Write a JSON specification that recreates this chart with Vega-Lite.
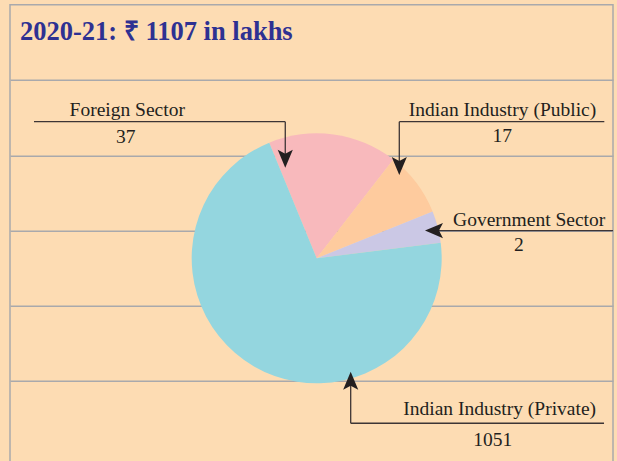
{
  "$schema": "https://vega.github.io/schema/vega-lite/v6.json",
  "width": 603,
  "height": 459.3,
  "autosize": {"type": "none"},
  "padding": {"left": 10, "top": 4.7, "right": 4, "bottom": 0},
  "background": "#FDDCB3",
  "config": {
    "view": {"stroke": "#A9A9AC", "strokeWidth": 1.5},
    "axisX": {"disable": true}
  },
  "data": {
    "values": [
      {"sector": "Foreign Sector", "value": 37, "slice_deg": 60.1, "k": 1},
      {"sector": "Indian Industry (Public)", "value": 17, "slice_deg": 30.2, "k": 2},
      {"sector": "Government Sector", "value": 2, "slice_deg": 14.85, "k": 3},
      {"sector": "Indian Industry (Private)", "value": 1051, "slice_deg": 254.85, "k": 4}
    ]
  },
  "layer": [
    {
      "mark": {"type": "arc", "radius": 125, "strokeWidth": 0},
      "encoding": {
        "x": {"datum": 50.86, "type": "quantitative", "scale": {"domain": [0, 100], "nice": false, "zero": false}, "axis": null},
        "y": {"datum": 3.368, "type": "quantitative", "scale": {"domain": [0, 6.1], "nice": false, "zero": false, "reverse": true},
              "axis": {"values": [1, 2, 3, 4, 5], "grid": true, "gridColor": "#A9A9AC", "gridWidth": 1.5, "gridOpacity": 1, "labels": false, "ticks": false, "domain": false, "title": null}},
        "theta": {"field": "slice_deg", "type": "quantitative", "stack": true, "scale": {"range": [-0.3892, 5.894]}},
        "order": {"field": "k", "type": "quantitative"},
        "color": {"field": "sector", "type": "nominal", "legend": null,
          "scale": {"domain": ["Foreign Sector", "Indian Industry (Public)", "Government Sector", "Indian Industry (Private)"],
                    "range": ["#F8B9BC", "#FECB9E", "#CBC8E5", "#94D6DF"]}}
      }
    },
    {
      "data": {"values": [{"heading": "2020-21: ₹ 1107 in lakhs"}]},
      "mark": {"type": "text", "font": "Liberation Serif", "fontWeight": "bold", "fontSize": 26.5, "color": "#2E3192", "align": "left", "baseline": "alphabetic"},
      "encoding": {"text": {"field": "heading", "type": "nominal"}, "x": {"datum": 1.658}, "y": {"datum": 0.469}}
    },
    {
      "transform": [{"filter": "datum.sector === 'Foreign Sector'"}],
      "layer": [
        {"mark": {"type": "text", "font": "Liberation Serif", "fontSize": 19.5, "color": "#231F20", "align": "center", "baseline": "alphabetic"},
         "encoding": {"text": {"field": "sector", "type": "nominal"}, "x": {"datum": 19.44}, "y": {"datum": 1.474}}},
        {"mark": {"type": "text", "font": "Liberation Serif", "fontSize": 19.5, "color": "#231F20", "align": "center", "baseline": "alphabetic"},
         "encoding": {"text": {"field": "value", "type": "nominal"}, "x": {"datum": 19.19}, "y": {"datum": 1.841}}},
        {"mark": {"type": "rule", "color": "#3D3535", "strokeWidth": 1.3},
         "encoding": {"x": {"datum": 3.98}, "x2": {"datum": 45.65}, "y": {"datum": 1.554}}},
        {"mark": {"type": "rule", "color": "#3D3535", "strokeWidth": 1.3},
         "encoding": {"x": {"datum": 45.65}, "y": {"datum": 1.554}, "y2": {"datum": 2.1}}},
        {"mark": {"type": "point", "shape": "M0,0L-0.42,-1L0,-0.78L0.42,-1Z", "filled": true, "color": "#231F20", "opacity": 1, "size": 1296, "angle": 0, "strokeWidth": 0},
         "encoding": {"x": {"datum": 45.65}, "y": {"datum": 2.165}}}
      ]
    },
    {
      "transform": [{"filter": "datum.sector === 'Indian Industry (Public)'"}],
      "layer": [
        {"mark": {"type": "text", "font": "Liberation Serif", "fontSize": 19.5, "color": "#231F20", "align": "center", "baseline": "alphabetic"},
         "encoding": {"text": {"field": "sector", "type": "nominal"}, "x": {"datum": 81.68}, "y": {"datum": 1.474}}},
        {"mark": {"type": "text", "font": "Liberation Serif", "fontSize": 19.5, "color": "#231F20", "align": "center", "baseline": "alphabetic"},
         "encoding": {"text": {"field": "value", "type": "nominal"}, "x": {"datum": 81.64}, "y": {"datum": 1.819}}},
        {"mark": {"type": "rule", "color": "#3D3535", "strokeWidth": 1.3},
         "encoding": {"x": {"datum": 64.56}, "x2": {"datum": 98.56}, "y": {"datum": 1.554}}},
        {"mark": {"type": "rule", "color": "#3D3535", "strokeWidth": 1.3},
         "encoding": {"x": {"datum": 64.56}, "y": {"datum": 1.554}, "y2": {"datum": 2.2}}},
        {"mark": {"type": "point", "shape": "M0,0L-0.42,-1L0,-0.78L0.42,-1Z", "filled": true, "color": "#231F20", "opacity": 1, "size": 1296, "angle": 0, "strokeWidth": 0},
         "encoding": {"x": {"datum": 64.56}, "y": {"datum": 2.262}}}
      ]
    },
    {
      "transform": [{"filter": "datum.sector === 'Government Sector'"}],
      "layer": [
        {"mark": {"type": "text", "font": "Liberation Serif", "fontSize": 19.5, "color": "#231F20", "align": "center", "baseline": "alphabetic"},
         "encoding": {"text": {"field": "sector", "type": "nominal"}, "x": {"datum": 86.1}, "y": {"datum": 2.939}}},
        {"mark": {"type": "text", "font": "Liberation Serif", "fontSize": 19.5, "color": "#231F20", "align": "center", "baseline": "alphabetic"},
         "encoding": {"text": {"field": "value", "type": "nominal"}, "x": {"datum": 84.41}, "y": {"datum": 3.271}}},
        {"mark": {"type": "rule", "color": "#3D3535", "strokeWidth": 1.3},
         "encoding": {"x": {"datum": 70}, "x2": {"datum": 100}, "y": {"datum": 3.0}}},
        {"mark": {"type": "point", "shape": "M0,0L-0.42,-1L0,-0.78L0.42,-1Z", "filled": true, "color": "#231F20", "opacity": 1, "size": 1296, "angle": 90, "strokeWidth": 0},
         "encoding": {"x": {"datum": 68.82}, "y": {"datum": 3.0}}}
      ]
    },
    {
      "transform": [{"filter": "datum.sector === 'Indian Industry (Private)'"}],
      "layer": [
        {"mark": {"type": "text", "font": "Liberation Serif", "fontSize": 19.5, "color": "#231F20", "align": "center", "baseline": "alphabetic"},
         "encoding": {"text": {"field": "sector", "type": "nominal"}, "x": {"datum": 81.21}, "y": {"datum": 5.449}}},
        {"mark": {"type": "text", "font": "Liberation Serif", "fontSize": 19.5, "color": "#231F20", "align": "center", "baseline": "alphabetic"},
         "encoding": {"text": {"field": "value", "type": "nominal"}, "x": {"datum": 80.05}, "y": {"datum": 5.861}}},
        {"mark": {"type": "rule", "color": "#3D3535", "strokeWidth": 1.3},
         "encoding": {"x": {"datum": 56.5}, "x2": {"datum": 98.51}, "y": {"datum": 5.559}}},
        {"mark": {"type": "rule", "color": "#3D3535", "strokeWidth": 1.3},
         "encoding": {"x": {"datum": 56.5}, "y": {"datum": 5.559}, "y2": {"datum": 4.95}}},
        {"mark": {"type": "point", "shape": "M0,0L-0.42,-1L0,-0.78L0.42,-1Z", "filled": true, "color": "#231F20", "opacity": 1, "size": 1296, "angle": 180, "strokeWidth": 0},
         "encoding": {"x": {"datum": 56.5}, "y": {"datum": 4.874}}}
      ]
    }
  ]
}
